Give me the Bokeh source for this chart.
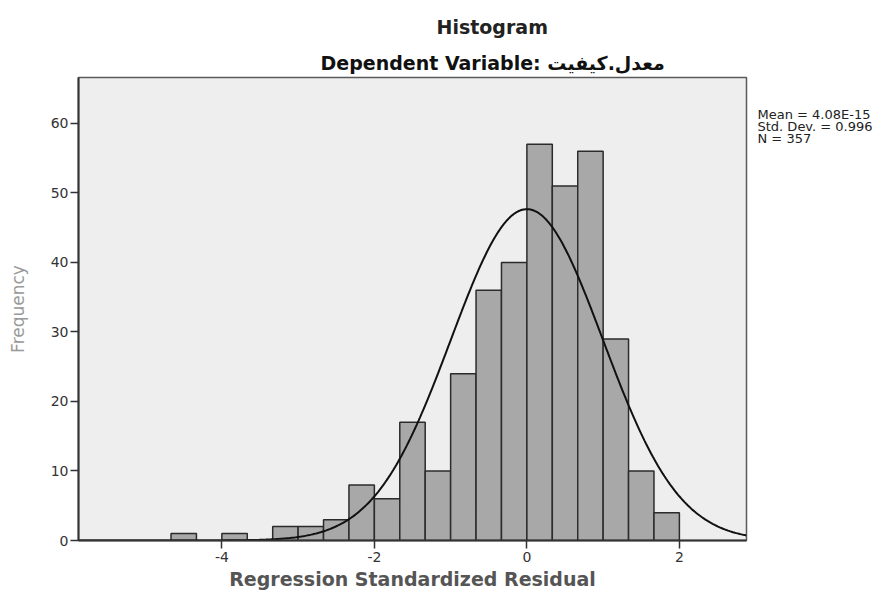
import numpy as np
from bokeh.plotting import figure
from bokeh.layouts import row
from bokeh.models import FixedTicker, ColumnDataSource, Range1d, Title
from bokeh.core.properties import value
from bokeh.embed import file_html
from bokeh.resources import INLINE

# ---- data ----
bin_start = -14 / 3
bin_width = 1 / 3
counts = [1, 0, 1, 0, 2, 2, 3, 8, 6, 17, 10, 24, 36, 40, 57, 51, 56, 29, 10, 4]
stat_mean = 4.08e-15
stat_std = 0.996
stat_n = 357
x_ticks = [-4, -2, 0, 2]
y_ticks = [0, 10, 20, 30, 40, 50, 60]
title_text = "Histogram"
subtitle_text = "Dependent Variable: معدل.كيفيت"
x_label = "Regression Standardized Residual"
y_label = "Frequency"
legend_lines = ["Mean = 4.08E-15", "Std. Dev. = 0.996", "N = 357"]

X0, X1 = -5.88, 2.88
Y0, Y1 = 0, 66.6
W_MAIN, W_SIDE, H = 748, 143, 593
FRAME_TOP, FRAME_H = 77, 463

counts_arr = np.array(counts, dtype=float)
lefts = bin_start + bin_width * np.arange(len(counts))
rights = lefts + bin_width
mask = counts_arr > 0
src = ColumnDataSource(dict(left=lefts[mask], right=rights[mask],
                            top=counts_arr[mask], bottom=np.zeros(mask.sum())))

p = figure(width=W_MAIN, height=H, output_backend="svg", toolbar_location=None,
           x_range=Range1d(X0, X1), y_range=Range1d(Y0, Y1),
           min_border_left=78, min_border_right=2, min_border_top=FRAME_TOP,
           min_border_bottom=H - FRAME_TOP - FRAME_H)
p.title.visible = False
p.background_fill_color = "#eeeeee"
p.border_fill_color = "white"
p.outline_line_color = "#5a5a5a"
p.outline_line_width = 1.5
p.grid.visible = False

p.quad(left="left", right="right", top="top", bottom="bottom", source=src,
       fill_color="#a8a8a8", line_color="#2b2b2b", line_width=1.5)

xs = np.linspace(X0, X1, 400)
ys = stat_n * bin_width * np.exp(-0.5 * ((xs - stat_mean) / stat_std) ** 2) / (stat_std * np.sqrt(2 * np.pi))
p.line(xs, ys, line_color="#111111", line_width=2)

for ax in (p.xaxis[0], p.yaxis[0]):
    ax.axis_line_color = "#333333"
    ax.axis_line_width = 2
    ax.major_tick_line_color = "#333333"
    ax.major_tick_line_width = 1.5
    ax.major_tick_out = 8
    ax.major_tick_in = 0
    ax.minor_tick_line_color = None
    ax.major_label_text_font = "DejaVu Sans"
    ax.major_label_text_font_size = "14px"
    ax.major_label_text_color = "#333333"
p.xaxis.ticker = FixedTicker(ticks=x_ticks)
p.yaxis.ticker = FixedTicker(ticks=y_ticks)
p.xaxis.major_label_overrides = {t: str(t) for t in x_ticks}
p.xaxis.major_label_standoff = 3
p.yaxis.major_label_standoff = 2

p.xaxis.axis_label = x_label
p.xaxis.axis_label_text_font = "DejaVu Sans"
p.xaxis.axis_label_text_font_style = "bold"
p.xaxis.axis_label_text_font_size = "19px"
p.xaxis.axis_label_text_color = "#555555"
p.xaxis.axis_label_standoff = 3

p.yaxis.axis_label = y_label
p.yaxis.axis_label_text_font = "DejaVu Sans"
p.yaxis.axis_label_text_font_style = "normal"
p.yaxis.axis_label_text_font_size = "17px"
p.yaxis.axis_label_text_color = "#999999"
p.yaxis.axis_label_standoff = 20

sub = Title(text=subtitle_text, align="left", offset=242, standoff=7,
            text_font="DejaVu Sans", text_font_style="bold", text_font_size="19px",
            text_color="#111111")
main = Title(text=title_text, align="left", offset=358, standoff=18,
             text_font="DejaVu Sans", text_font_style="bold", text_font_size="19px",
             text_color="#222222")
p.add_layout(sub, "above")
p.add_layout(main, "above")

# statistics text, in a narrow side canvas whose frame is aligned with the plot frame
side = figure(frame_width=W_SIDE, frame_height=FRAME_H, output_backend="svg",
              toolbar_location=None,
              x_range=Range1d(0, W_SIDE), y_range=Range1d(FRAME_H, 0),
              x_axis_type=None, y_axis_type=None,
              min_border_left=0, min_border_right=0, min_border_top=0,
              min_border_bottom=0)
side.title.visible = False
side.grid.visible = False
side.outline_line_color = None
side.background_fill_color = "white"
side.border_fill_color = "white"
side.text(x=[9] * len(legend_lines),
          y=[114 - FRAME_TOP + 12 * i for i in range(len(legend_lines))],
          text=legend_lines, text_font=value("DejaVu Sans"), text_font_size="13px",
          text_color="#222222", text_align="left", text_baseline="alphabetic")

open("out.html", "w").write(file_html(row(p, side), INLINE))
